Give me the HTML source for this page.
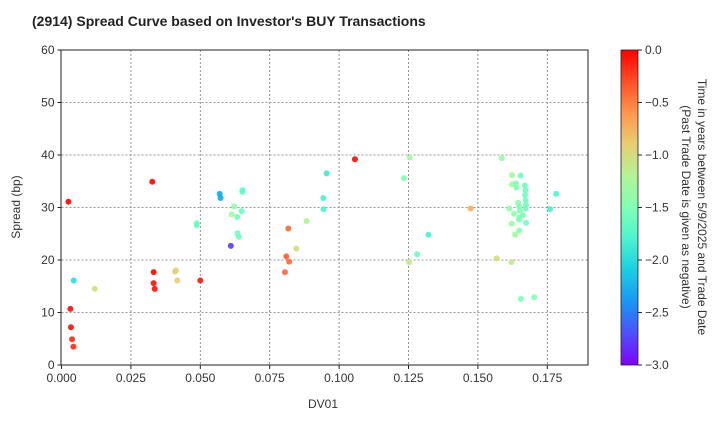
<!DOCTYPE html>
<html><head><meta charset="utf-8"><style>
body{margin:0;background:#fff}
svg{font-family:"Liberation Sans","DejaVu Sans",sans-serif}
</style></head><body>
<svg id="chart" width="720" height="420" viewBox="0 0 720 420">
<defs><linearGradient id="cb" x1="0" y1="1" x2="0" y2="0"></linearGradient></defs>
<text x="32" y="26" font-size="14" font-weight="bold" fill="#222">(2914)   Spread Curve based on Investor's BUY Transactions</text>
<g id="grid"></g>
<g id="pts"></g>
<rect x="61" y="50" width="527" height="315" fill="none" stroke="#222" stroke-width="1"/>
<g id="axes"></g>
<text x="323" y="408" font-size="12" text-anchor="middle" fill="#333">DV01</text>
<text transform="translate(20,207) rotate(-90)" font-size="12" text-anchor="middle" fill="#333">Spread (bp)</text>
<rect x="621" y="50" width="17" height="315" fill="url(#cb)" stroke="#222" stroke-width="0.8"/>
<g id="cbax"></g>
<text transform="translate(698,207) rotate(90)" font-size="12" text-anchor="middle" fill="#333">Time in years between 5/9/2025 and Trade Date</text>
<text transform="translate(682,207) rotate(90)" font-size="12" text-anchor="middle" fill="#333">(Past Trade Date is given as negative)</text>
</svg>
<script>
const xTicks=[0,0.025,0.05,0.075,0.1,0.125,0.15,0.175];
const xTickLabels=["0.000","0.025","0.050","0.075","0.100","0.125","0.150","0.175"];
const yTicks=[0,10,20,30,40,50,60];
const cbTicks=[0,-0.5,-1,-1.5,-2,-2.5,-3];
const cbTickLabels=["0.0","\u22120.5","\u22121.0","\u22121.5","\u22122.0","\u22122.5","\u22123.0"];
const dv01=[0.0025,0.0327,0.0044,0.012,0.0032,0.0034,0.0038,0.0043,0.0332,0.0332,0.0336,0.0412,0.0409,0.0417,0.050,0.0487,0.0487,0.057,0.0573,0.0652,0.0652,0.0622,0.0613,0.0649,0.0633,0.0634,0.0639,0.061,0.0817,0.0883,0.0955,0.0943,0.0944,0.0846,0.081,0.082,0.0805,0.1057,
0.1255,0.1234,0.1322,0.1281,0.1252,0.1474,0.1586,0.1568,0.1621,0.1623,0.1654,0.1623,0.1637,0.1639,0.1669,0.1672,0.167,0.1672,0.1673,0.1672,0.1645,0.1613,0.1649,0.1651,0.163,0.1662,0.1649,0.1648,0.1674,0.1622,0.1649,0.1634,0.1655,0.1703,0.1782,0.176];
const spread=[31.1,34.9,16.1,14.5,10.7,7.2,4.9,3.5,17.7,15.6,14.5,18.0,17.8,16.1,16.1,27.0,26.6,32.6,31.8,33.3,33.0,30.2,28.7,29.3,28.2,25.1,24.4,22.7,26.0,27.4,36.5,31.8,29.7,22.2,20.7,19.7,17.7,39.2,
39.5,35.6,24.8,21.1,19.6,29.8,39.4,20.3,19.6,36.2,36.1,34.4,34.6,33.8,34.2,33.3,32.4,31.4,30.5,29.8,30.9,29.8,30.2,29.4,28.8,28.5,28.1,27.7,27.1,26.9,25.6,24.8,12.6,12.9,32.6,29.7];
const ages=[-0.02,-0.02,-2.0,-1.0,-0.05,-0.05,-0.15,-0.15,-0.02,-0.05,-0.05,-0.9,-0.9,-0.9,-0.08,-1.6,-1.6,-2.3,-2.3,-1.7,-1.7,-1.4,-1.3,-1.6,-1.6,-1.6,-1.6,-2.8,-0.4,-1.2,-1.9,-1.8,-1.8,-1.0,-0.35,-0.4,-0.4,-0.02,
-1.3,-1.5,-1.8,-1.6,-1.1,-0.7,-1.4,-1.0,-1.1,-1.3,-1.6,-1.3,-1.5,-1.5,-1.6,-1.6,-1.6,-1.6,-1.6,-1.6,-1.4,-1.4,-1.5,-1.5,-1.4,-1.5,-1.5,-1.5,-1.6,-1.3,-1.5,-1.3,-1.5,-1.5,-1.8,-1.8];
const NS="http://www.w3.org/2000/svg";
const L=61.5,R=588,T=50,B=365;
const xs=v=>L+v/0.025*69.4;
const ys=v=>B-(v/60)*(B-T);
const cs=v=>B-(v+3)/3*(B-T);
function rainbow(t){const x=(t+3)/3;const c=v=>Math.round(255*Math.max(0,Math.min(1,v)));
return `rgb(${c(Math.abs(2*x-0.5))},${c(Math.sin(Math.PI*x))},${c(Math.cos(Math.PI*x/2))})`;}
function mk(tag,attrs,parent){const e=document.createElementNS(NS,tag);for(const k in attrs)e.setAttribute(k,attrs[k]);parent.appendChild(e);return e;}
const grid=document.getElementById('grid'),axes=document.getElementById('axes'),pts=document.getElementById('pts'),cbax=document.getElementById('cbax');
xTicks.forEach((t,i)=>{const x=xs(t);
 if(i>0){const g=mk('line',{x1:x,x2:x,y1:T,y2:B,stroke:'#777','stroke-dasharray':'2,2','stroke-width':0.8},grid);
 }
 mk('line',{x1:x,x2:x,y1:B,y2:B+4,stroke:'#222'},axes);
 const tx=mk('text',{x:x,y:B+17,'font-size':12,'text-anchor':'middle',fill:'#333'},axes);tx.textContent=xTickLabels[i];
 });
yTicks.forEach(t=>{const y=ys(t);
 if(t>0&&t<60){const g=mk('line',{x1:L,x2:R,y1:y,y2:y,stroke:'#777','stroke-dasharray':'2,2','stroke-width':0.8},grid);
 }
 mk('line',{x1:L-4,x2:L,y1:y,y2:y,stroke:'#222'},axes);
 const tx=mk('text',{x:L-7,y:y+4,'font-size':12,'text-anchor':'end',fill:'#333'},axes);tx.textContent=String(t);
 });
dv01.forEach((d,i)=>{const c=mk('circle',{cx:xs(d),cy:ys(spread[i]),r:3,fill:rainbow(ages[i]),'fill-opacity':0.9},pts);
 });
const grad=document.getElementById('cb');
for(let i=0;i<=10;i++){const s=mk('stop',{offset:(i/10),'stop-color':rainbow(-3+0.3*i)},grad);}
cbTicks.forEach((t,i)=>{const y=cs(t);
 mk('line',{x1:638,x2:642,y1:y,y2:y,stroke:'#222'},cbax);
 const tx=mk('text',{x:645,y:y+4,'font-size':12,fill:'#333'},cbax);tx.textContent=cbTickLabels[i];
 });
</script>
</body></html>
